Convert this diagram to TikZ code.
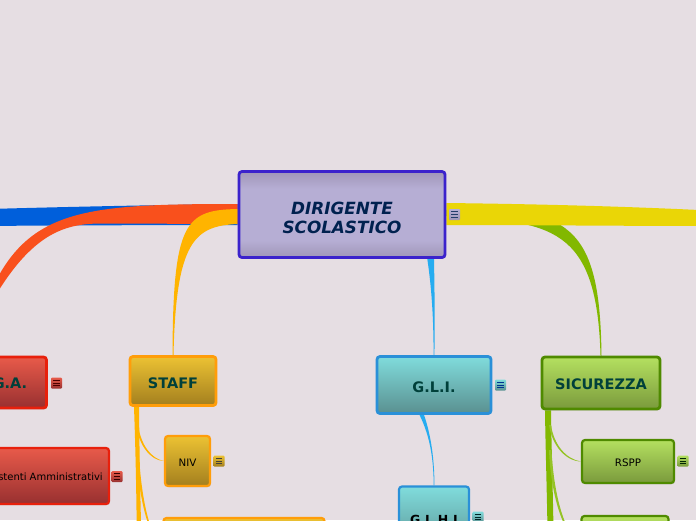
\documentclass[tikz,border=0pt]{standalone}
\usepackage{fontspec}
\setmainfont{DejaVu Sans}
\usetikzlibrary{backgrounds,calc,shadows}
\definecolor{bgcol}{HTML}{E6DEE3}
\definecolor{darktxt}{HTML}{00403A}
\definecolor{roottxt}{HTML}{00214F}
\definecolor{rootdraw}{HTML}{3B22CC}
\definecolor{rootfill}{HTML}{B6AED4}
\definecolor{rootedge}{HTML}{A096B8}
\definecolor{redline}{HTML}{E8200C}
\definecolor{redtop}{HTML}{E85A4A}
\definecolor{redbot}{HTML}{983030}
\definecolor{orangeline}{HTML}{FF9D0A}
\definecolor{yellowtop}{HTML}{ECC233}
\definecolor{yellowbot}{HTML}{A37F1E}
\definecolor{blueline}{HTML}{2A90D8}
\definecolor{bluetop}{HTML}{80DCDC}
\definecolor{bluebot}{HTML}{5A9090}
\definecolor{greenline}{HTML}{4F8A00}
\definecolor{greentop}{HTML}{B4E060}
\definecolor{greenbot}{HTML}{7A9A3C}
\definecolor{ribblue}{HTML}{005FDB}
\definecolor{ribred}{HTML}{F9501C}
\definecolor{ribyellow}{HTML}{FFB400}
\definecolor{ribgold}{HTML}{EAD606}
\definecolor{ribgreen}{HTML}{82B800}
\definecolor{ribsky}{HTML}{26ACF0}
\pgfdeclareverticalshading{rootshade}{100bp}{color(0bp)=(rootedge); color(25bp)=(rootedge); color(35bp)=(rootfill); color(65bp)=(rootfill); color(75bp)=(rootedge); color(100bp)=(rootedge)}
\tikzset{
  topic/.style={draw, rounded corners=3pt, line width=2.8pt, align=center, inner sep=0pt,
    text=darktxt, font=\bfseries\fontsize{14.5}{17}\selectfont,
    general shadow={fill=black, opacity=.22, shadow xshift=.8pt, shadow yshift=-1pt}},
  subtopic/.style={topic, line width=2.2pt, text=black, font=\fontsize{10.3}{12}\selectfont},
  redbox/.style={draw=redline, top color=redtop, bottom color=redbot},
  yellowbox/.style={draw=orangeline, top color=yellowtop, bottom color=yellowbot},
  bluebox/.style={draw=blueline, top color=bluetop, bottom color=bluebot},
  greenbox/.style={draw=greenline, top color=greentop, bottom color=greenbot},
  notebox/.style={rounded corners=1pt, minimum size=11pt, inner sep=0pt},
}
% small menu mark next to a box
\newcommand{\notemark}[4]{
  \node[notebox, top color=#3top, bottom color=#3bot] (#1) at (#2) {};
  \foreach \dy in {-2.7,0,2.7}
    \draw[#4, line width=.7pt] ([xshift=-3.2pt,yshift=\dy pt]#1.center) -- ([xshift=3.2pt,yshift=\dy pt]#1.center);
}
\colorlet{roottop}{rootfill}
\colorlet{rootbot}{rootedge}
\begin{document}
\begin{tikzpicture}[x=1pt,y=-1pt]
  \useasboundingbox (0,0) rectangle (696,520);

  % ends that run off the page
  \coordinate (leftend) at (-30,218);
  \coordinate (rightend) at (720,218);
  \coordinate (gaend) at (-29,345);
  \coordinate (staffend) at (142,560);
  \coordinate (greenend) at (554,560);

  % boxes
  \node[topic, draw=rootdraw, minimum width=206pt, minimum height=86pt, shading=rootshade,
    font=\bfseries\itshape\fontsize{16.8}{19.5}\selectfont, text=roottxt] (root) at (342,214.5) {\rule{0pt}{19pt}DIRIGENTE\\SCOLASTICO};
  \node[topic, redbox, minimum width=73pt, minimum height=51pt, text height=13pt] (ga) at (10,382.5) {G.A.};
  \node[topic, yellowbox, minimum width=86pt, minimum height=49pt, text height=14.5pt] (staff) at (173,381) {STAFF};
  \node[topic, bluebox, minimum width=114pt, minimum height=57pt, text height=15pt] (gli) at (434,385) {G.L.I.};
  \node[topic, greenbox, minimum width=118pt, minimum height=52pt, text height=14pt] (sicurezza) at (601,383) {SICUREZZA};
  \node[subtopic, redbox, font=\fontsize{10}{12}\selectfont, minimum width=117pt, minimum height=56pt, text height=10pt] (assistenti) at (50.5,476) {stenti Amministrativi};
  \node[subtopic, yellowbox, minimum width=45pt, minimum height=50pt, text height=10pt] (niv) at (187.5,461) {NIV};
  \node[subtopic, yellowbox, minimum width=161pt, minimum height=50pt] (staffbox) at (244,543) {};
  \node[subtopic, bluebox, font=\bfseries\fontsize{12.5}{14}\selectfont, minimum width=70pt, minimum height=67pt] (glhi) at (434,520) {G.L.H.I};
  \node[subtopic, greenbox, minimum width=92pt, minimum height=43pt, text height=11pt] (rspp) at (628,461.5) {RSPP};
  \node[subtopic, greenbox, minimum width=87pt, minimum height=50pt] (greenbottom) at (625,541) {};

  % menu marks
  \notemark{markroot}{454.5,214.5}{root}{roottxt!80!rootfill}
  \notemark{markga}{56.5,383}{red}{black!70!red}
  \notemark{markassist}{117,476.5}{red}{black!80!red}
  \notemark{markniv}{219,461}{yellow}{black!85!yellow}
  \notemark{markgli}{500.5,385}{blue}{black!40!blue!60!teal}
  \notemark{markglhi}{478,517}{blue}{black!70!teal}
  \notemark{markrspp}{683,461}{green}{black!85!green}

  % ribbons behind the boxes
  \begin{scope}[on background layer]
    \fill[bgcol] (0,0) rectangle (696,520);
    \fill[ribblue] ($(root.west)+(0,-10.5)$) .. controls (150,205) and (60,207) .. (leftend |- 0,209.5)
      -- (leftend |- 0,226) .. controls (60,225.5) and (150,225) .. ($(root.west)+(0,10.5)$) -- cycle;
    \fill[ribred] ($(root.west)+(0,-10.5)$) .. controls (60,204) and (10,210) .. ($(gaend)+(1,0)$)
      -- ($(gaend)+(-1,0)$) .. controls (20,235) and (60,224) .. (100,223.5) -- ($(root.west)+(0,9.5)$) -- cycle;
    \fill[ribyellow] ($(root.west)+(0,-5.5)$) .. controls (185,210) and (173,222) .. ($(staff.north)+(-.5,0)$)
      -- ($(staff.north)+(.5,0)$) .. controls (176,240) and (195,226) .. ($(root.west)+(0,9.5)$) -- cycle;
    \fill[ribgreen] ($(root.east)+(0,-4.5)$) .. controls (570,205) and (600,225) .. ($(sicurezza.north)+(.5,0)$)
      -- ($(sicurezza.north)+(-.5,0)$) .. controls (597,225) and (550,222) .. ($(root.east)+(0,1.5)$) -- cycle;
    \fill[ribgold] ($(root.east)+(0,-11.5)$) .. controls (530,204) and (620,206) .. (rightend |- 0,211)
      -- (rightend |- 0,226) .. controls (620,226) and (530,225) .. ($(root.east)+(0,10.5)$) -- cycle;
    \fill[ribsky] (427,257) .. controls (432,290) and (433.5,320) .. ($(gli.north)+(-.4,0)$)
      -- ($(gli.north)+(.4,0)$) .. controls (435,320) and (434.5,290) .. (434,257) -- cycle;
    \fill[ribsky] ($(gli.south)+(-14.5,0)$) .. controls (431,438) and (433.5,462) .. ($(glhi.north)+(-.3,0)$)
      -- ($(glhi.north)+(.4,0)$) .. controls (434.5,460) and (431,435) .. ($(gli.south)+(-10,0)$) -- cycle;
    % branches under STAFF
    \fill[ribyellow] ($(staff.south)+(-39,0)$) .. controls (135.5,450) and (136.5,490) .. ($(staffend)+(-5,0)$)
      -- (staffend) .. controls (140,490) and (139.5,450) .. ($(staff.south)+(-34,0)$) -- cycle;
    \fill[ribyellow] (136,425) .. controls (139,445) and (150,460.5) .. (niv.west)
      -- (niv.west) .. controls (151,458.5) and (141,445) .. (138,425) -- cycle;
    \fill[ribyellow] (136,445) .. controls (138,500) and (150,542.5) .. (staffbox.west)
      -- (staffbox.west) .. controls (151,540.5) and (140.5,500) .. (138.5,445) -- cycle;
    % branches under SICUREZZA
    \fill[ribgreen] ($(sicurezza.south)+(-56,0)$) .. controls (545.5,450) and (547,490) .. ($(greenend)+(-6,0)$)
      -- (greenend) .. controls (553,490) and (551.5,450) .. ($(sicurezza.south)+(-50,0)$) -- cycle;
    \fill[ribgreen!85!white] (549,425) .. controls (552,445) and (565,461) .. (rspp.west)
      -- (rspp.west) .. controls (566,459) and (554,445) .. (551,425) -- cycle;
    \fill[ribgreen!85!white] (549,450) .. controls (551,500) and (566,540.5) .. (greenbottom.west)
      -- (greenbottom.west) .. controls (567,538.5) and (554,500) .. (551.5,450) -- cycle;
  \end{scope}
\end{tikzpicture}
\end{document}
